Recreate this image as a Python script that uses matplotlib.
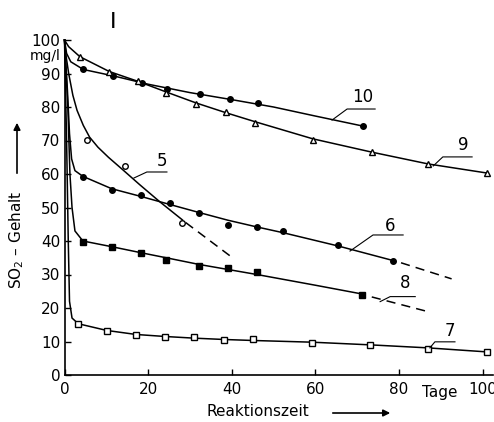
import matplotlib
matplotlib.use("Agg")
import matplotlib.pyplot as plt

# ---------------- data ----------------
# measured points (markers)
c10_x = [4.5, 11.7, 18.5, 24.6, 32.4, 39.6, 46.4, 71.4]
c10_y = [91.2, 89.3, 87.1, 85.4, 83.9, 82.3, 81.1, 74.3]
c9_x = [3.7, 10.7, 17.7, 24.3, 31.5, 38.6, 45.6, 59.4, 73.6, 87.0, 101.0]
c9_y = [95.0, 90.5, 87.8, 84.1, 80.9, 78.6, 75.3, 70.1, 66.6, 63.0, 60.3]
c5_x = [5.5, 14.5, 28.1]
c5_y = [70.1, 62.4, 45.4]
c6_x = [4.4, 11.3, 18.3, 25.2, 32.2, 39.1, 46.0, 52.2, 65.5, 78.5]
c6_y = [59.1, 55.2, 53.7, 51.3, 48.4, 44.8, 44.1, 43.0, 38.8, 34.1]
c8_x = [4.4, 11.3, 18.3, 24.3, 32.2, 39.1, 46.0, 71.1]
c8_y = [39.8, 38.1, 36.4, 34.3, 32.6, 31.9, 30.8, 23.9]
c7_x = [3.3, 10.1, 17.1, 24.0, 31.0, 38.2, 45.2, 59.1, 73.1, 86.9, 101.0]
c7_y = [15.1, 13.2, 11.9, 11.4, 11.2, 10.4, 10.7, 9.7, 9.1, 7.9, 6.8]

# fitted curves (solid)
f10_x = [0, 0.5, 1.5, 4.5, 12, 20, 30, 40, 50, 60, 71.4]
f10_y = [100, 96, 93.5, 91.2, 89.2, 86.8, 84.3, 82.2, 80.0, 77.3, 74.3]
f9_x = [0, 1, 3.7, 10.7, 17.7, 24.3, 31.5, 38.6, 45.6, 59.4, 73.6, 87, 101]
f9_y = [100, 98, 95, 90.6, 87.6, 84.5, 81.2, 78.3, 75.6, 70.5, 66.5, 63.0, 60.3]
f5_x = [0, 0.4, 1, 2, 3, 4.5, 6, 8, 10.5, 14, 18, 22.8, 28.2]
f5_y = [100, 95, 90, 83.5, 79, 74.5, 71, 68, 65, 61.2, 56.8, 51.7, 46.3]
f6_x = [0, 0.7, 1.2, 1.7, 2.5, 4.4, 11.3, 18.3, 25.2, 32.2, 39.1, 46, 52.2, 65.5, 78.5]
f6_y = [100, 85, 72, 64.5, 61, 59.3, 55.6, 53.3, 50.9, 48.5, 46.2, 44.2, 42.5, 38.5, 34.2]
f8_x = [0, 0.8, 1.3, 1.8, 2.5, 4.4, 11.3, 18.3, 24.3, 32.2, 39.1, 46, 60, 71.1]
f8_y = [100, 80, 60, 50, 43, 40, 38.3, 36.5, 35, 33, 31.5, 30, 26.8, 24.2]
f7_x = [0, 0.5, 0.9, 1.2, 1.8, 3.3, 10.1, 17.1, 24, 31, 38.2, 45.2, 59.1, 73.1, 86.9, 101]
f7_y = [100, 70, 40, 22, 17, 15.3, 13.3, 12.1, 11.5, 11.0, 10.6, 10.3, 9.8, 9.0, 8.1, 6.9]

# extrapolations (dashed)
d5_x = [29.0, 40.3]
d5_y = [45.5, 34.9]
d6_x = [80.5, 92.6]
d6_y = [33.5, 28.7]
d8_x = [73.5, 87.0]
d8_y = [23.3, 18.9]

x_ticks = [0, 20, 40, 60, 80, 100]
y_ticks = [0, 10, 20, 30, 40, 50, 60, 70, 80, 90, 100]
curve_names = ["10", "9", "5", "6", "8", "7"]

# ---------------- layout / styles ----------------
W, H = 494, 422
fig = plt.figure(figsize=(W / 100, H / 100), dpi=100)
ax = fig.add_axes([64.5 / W, 47 / H, 428.5 / W, 335 / H])
ax.set_xlim(0, 102.5)
ax.set_ylim(0, 100)
FS = 11
lw = 1.1

for sp in ("top", "right"):
    ax.spines[sp].set_visible(False)
for sp in ("left", "bottom"):
    ax.spines[sp].set_linewidth(1.2)

ax.set_xticks(x_ticks)
ax.set_yticks(y_ticks)
ax.tick_params(direction="in", length=4, width=1, labelsize=FS)
ax.tick_params(axis="x", pad=5)
ax.tick_params(axis="y", pad=3)

fits = [(f10_x, f10_y), (f9_x, f9_y), (f5_x, f5_y), (f6_x, f6_y), (f8_x, f8_y), (f7_x, f7_y)]
for fx, fy in fits:
    ax.plot(fx, fy, color="black", lw=lw, clip_on=False)
for dx, dy in [(d5_x, d5_y), (d6_x, d6_y), (d8_x, d8_y)]:
    ax.plot(dx, dy, color="black", lw=lw, dashes=(6, 4))

ms = 4
ax.plot(c10_x, c10_y, "o", ms=ms, mfc="black", mec="black", ls="none")
ax.plot(c9_x, c9_y, "^", ms=ms + 0.5, mfc="white", mec="black", mew=1, ls="none", clip_on=False)
ax.plot(c5_x, c5_y, "o", ms=ms, mfc="white", mec="black", mew=1, ls="none")
ax.plot(c6_x, c6_y, "o", ms=ms, mfc="black", mec="black", ls="none")
ax.plot(c8_x, c8_y, "s", ms=ms, mfc="black", mec="black", ls="none")
ax.plot(c7_x, c7_y, "s", ms=ms, mfc="white", mec="black", mew=1, ls="none", clip_on=False)

# curve number labels with leader lines: (text x, text y, underline x0, x1, y, tip x, tip y)
label_layout = [
    (71.4, 82.9, 67.6, 74.3, 79.4, 64.0, 76.1),
    (95.3, 68.6, 90.5, 97.5, 65.1, 88.2, 62.4),
    (23.3, 63.9, 19.7, 24.5, 60.6, 16.6, 58.8),
    (77.9, 44.4, 73.8, 81.0, 41.8, 68.3, 37.0),
    (81.5, 27.4, 77.9, 83.9, 23.4, 75.5, 21.9),
    (92.2, 13.1, 88.6, 93.4, 9.9, 87.4, 8.1),
]
for name, (tx, ty, u0, u1, uy, px, py) in zip(curve_names, label_layout):
    ax.text(tx, ty, name, fontsize=FS + 1, ha="center", va="center")
    ax.plot([px, u0, u1], [py, uy, uy], color="black", lw=0.8, clip_on=False)

# unit under the 100 label
ax.text(-0.9, 95.2, "mg/l", fontsize=FS - 1, ha="right", va="center", clip_on=False)
# "Tage" between 80 and 100
ax.text(89.8, -5.1, "Tage", fontsize=FS, ha="center", va="center", clip_on=False)

# y-axis label with arrow
fig.text(17 / W, 1 - 240 / H, "SO$_2$ – Gehalt", rotation=90, fontsize=FS,
         ha="center", va="center")
fig.add_artist(matplotlib.patches.FancyArrowPatch(
    (17 / W, 1 - 176 / H), (17 / W, 1 - 120 / H), transform=fig.transFigure,
    arrowstyle="-|>", mutation_scale=10, color="black", lw=1.2))

# x-axis label with arrow
fig.text(258 / W, 1 - 412 / H, "Reaktionszeit", fontsize=FS, ha="center", va="center")
fig.add_artist(matplotlib.patches.FancyArrowPatch(
    (330 / W, 1 - 413 / H), (393 / W, 1 - 413 / H), transform=fig.transFigure,
    arrowstyle="-|>", mutation_scale=10, color="black", lw=1.2))

# panel mark
fig.text(113 / W, 1 - 22 / H, "I", fontsize=16, ha="center", va="center")

fig.savefig("out.png", dpi=100, facecolor="white")
